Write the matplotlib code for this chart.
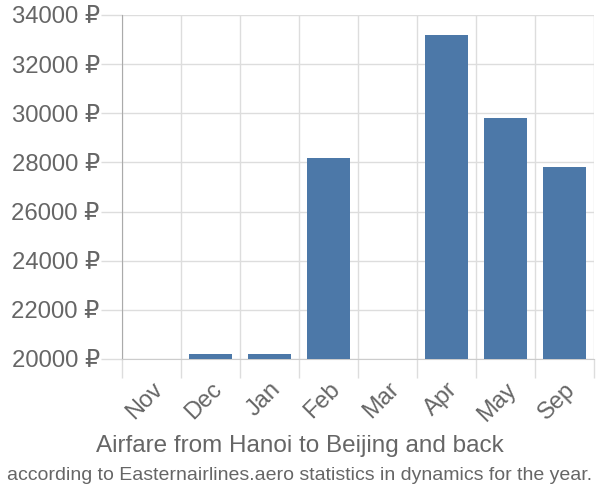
import numpy as np
import matplotlib.pyplot as plt
from matplotlib.ticker import FuncFormatter

months = ["Nov", "Dec", "Jan", "Feb", "Mar", "Apr", "May", "Sep"]
prices = [20000, 20200, 20200, 28180, 20000, 33190, 29810, 27810]
y_ticks = [20000, 22000, 24000, 26000, 28000, 30000, 32000, 34000]

plt.rcParams['font.family'] = ['Liberation Sans', 'DejaVu Sans']

fig = plt.figure(figsize=(6, 5), dpi=100)
ax = fig.add_axes([122 / 600, 1 - 359 / 500, 472 / 600, 344 / 500])

x = np.arange(len(months))
base = y_ticks[0]
ax.bar(x, np.array(prices) - base, bottom=base, width=0.72,
       color='#4c78a8', zorder=3)

ax.set_xlim(-0.5, len(months) - 0.5)
ax.set_ylim(y_ticks[0], y_ticks[-1])

ax.set_xticks(x)
ax.set_xticklabels(months, rotation=45, ha='right', rotation_mode='anchor')
ax.set_xticks(np.arange(-0.5, len(months)), minor=True)
ax.tick_params(axis='x', which='major', length=0, pad=14,
               labelsize=17, labelcolor='#666666')
ax.tick_params(axis='x', which='minor', length=14, color='#dddddd', width=1)

ax.set_yticks(y_ticks)
ax.yaxis.set_major_formatter(FuncFormatter(lambda v, p: f"{int(v)} \u20bd"))
ax.tick_params(axis='y', length=15, color='#dddddd', width=1, pad=1,
               labelsize=17.2, labelcolor='#666666')

ax.grid(True, axis='y', color='#dddddd', linewidth=1, zorder=0)
ax.grid(True, axis='x', which='minor', color='#dddddd', linewidth=1, zorder=0)

for side in ['top', 'right']:
    ax.spines[side].set_visible(False)
ax.spines['left'].set_color('#aaaaaa')
ax.spines['bottom'].set_color('#cccccc')
ax.spines['left'].set_bounds(y_ticks[0], y_ticks[-1])

fig.text(0.5, 1 - 446 / 500, "Airfare from Hanoi to Beijing and back",
         ha='center', va='center', fontsize=17.5, color='#666666')
fig.text(0.5, 1 - 475 / 500,
         "according to Easternairlines.aero statistics in dynamics for the year.",
         ha='center', va='center', fontsize=14, color='#666666')

fig.savefig("out.png", dpi=100)
